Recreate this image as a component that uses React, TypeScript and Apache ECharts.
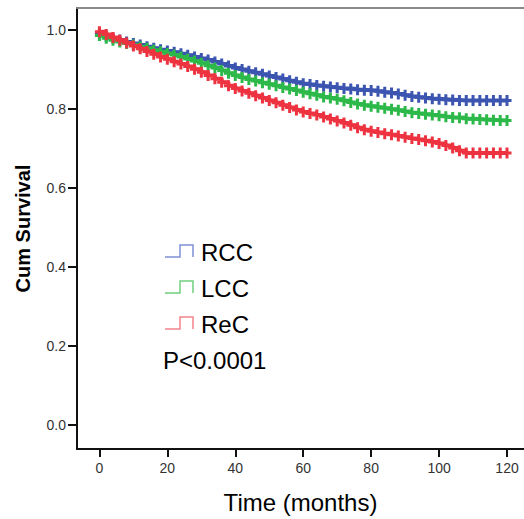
import React, { useEffect, useRef } from "react";
import * as echarts from "echarts";

const months = [0,2,4,6,8,10,12,14,16,18,20,22,24,26,28,30,32,34,36,38,40,42,44,46,48,50,52,54,56,58,60,62,64,66,68,70,72,74,76,78,80,82,84,86,88,90,92,94,96,98,100,102,104,106,108,110,112,114,116,118,120];

const rccSurvival = [0.990,0.984,0.979,0.974,0.969,0.965,0.961,0.957,0.953,0.949,0.946,0.943,0.939,0.935,0.931,0.927,0.923,0.918,0.913,0.908,0.903,0.899,0.895,0.891,0.887,0.883,0.879,0.875,0.871,0.867,0.863,0.861,0.859,0.857,0.855,0.853,0.851,0.850,0.848,0.847,0.846,0.844,0.842,0.840,0.837,0.834,0.831,0.829,0.827,0.825,0.824,0.823,0.822,0.821,0.821,0.821,0.821,0.821,0.821,0.821,0.821];

const lccSurvival = [0.985,0.978,0.973,0.969,0.965,0.961,0.957,0.953,0.948,0.944,0.940,0.936,0.931,0.926,0.921,0.915,0.909,0.903,0.897,0.890,0.884,0.879,0.874,0.870,0.866,0.862,0.858,0.854,0.850,0.846,0.842,0.838,0.834,0.830,0.827,0.824,0.820,0.816,0.812,0.809,0.806,0.804,0.801,0.799,0.796,0.793,0.790,0.788,0.786,0.784,0.782,0.780,0.778,0.777,0.775,0.774,0.773,0.772,0.771,0.770,0.770];

const recSurvival = [0.995,0.988,0.980,0.973,0.966,0.959,0.952,0.945,0.938,0.931,0.925,0.919,0.913,0.907,0.900,0.892,0.884,0.876,0.867,0.858,0.851,0.845,0.839,0.833,0.827,0.821,0.815,0.809,0.803,0.797,0.792,0.788,0.784,0.779,0.774,0.769,0.764,0.758,0.752,0.747,0.743,0.740,0.737,0.734,0.731,0.728,0.725,0.722,0.719,0.716,0.712,0.707,0.701,0.694,0.688,0.688,0.688,0.688,0.688,0.688,0.688];

const xTicks = [0, 20, 40, 60, 80, 100, 120];
const yTicks = [0, 0.2, 0.4, 0.6, 0.8, 1.0];
const groupNames = ["RCC", "LCC", "ReC"];
const pValueText = "P<0.0001";

const COLORS = ["#3b55b0", "#2db84a", "#ee3340"];
const ICON_COLORS = ["#7f90d6", "#6fd07e", "#f4858b"];
const FONT = "Liberation Sans, Arial, sans-serif";
const PLUS = "path://M3,0H6V4H9V7H6V11H3V7H0V4H3Z";

export default function App() {
  const ref = useRef<HTMLDivElement>(null);
  useEffect(() => {
    if (!ref.current) return;
    const chart = echarts.init(ref.current, undefined, { renderer: "svg" });
    const seriesData = [rccSurvival, lccSurvival, recSurvival];
    const legendY = [252, 288, 324];
    const graphics: any[] = [];
    groupNames.forEach((name, i) => {
      const y = legendY[i];
      graphics.push({
        type: "polyline",
        shape: { points: [[165, y + 5], [180, y + 5], [180, y - 7], [193, y - 7], [193, y + 5]] },
        style: { stroke: ICON_COLORS[i], lineWidth: 1.5, fill: "none" },
        silent: true,
      });
      graphics.push({
        type: "text",
        x: 201,
        y: y,
        style: { text: name, font: `24px ${FONT}`, fill: "#000", textVerticalAlign: "middle" },
      });
    });
    graphics.push({
      type: "text",
      x: 163,
      y: 360,
      style: { text: pValueText, font: `24px ${FONT}`, fill: "#000", textVerticalAlign: "middle" },
    });

    chart.setOption({
      animation: false,
      backgroundColor: "#fff",
      grid: { left: 77, top: 8, right: 0, bottom: 63, containLabel: false },
      xAxis: [
        {
          type: "value",
          min: -6.6,
          max: 125,
          position: "bottom",
          name: "Time (months)",
          nameLocation: "middle",
          nameGap: 41,
          nameMoveOverlap: false,
          nameTextStyle: { fontFamily: FONT, fontSize: 24, color: "#000" },
          axisLine: { show: true, onZero: false, lineStyle: { color: "#111", width: 2 } },
          axisTick: { show: true, length: 8, customValues: xTicks, lineStyle: { color: "#111", width: 2 } },
          axisLabel: { customValues: xTicks, fontFamily: FONT, fontSize: 14, color: "#333", margin: 12 },
          splitLine: { show: false },
        },
        {
          type: "value",
          min: -6.6,
          max: 125,
          position: "top",
          axisLine: { show: true, onZero: false, lineStyle: { color: "#8a8a8a", width: 2 } },
          axisTick: { show: false },
          axisLabel: { show: false },
          splitLine: { show: false },
        },
      ],
      yAxis: {
        type: "value",
        min: -0.0606,
        max: 1.0548,
        name: "Cum Survival",
        nameLocation: "middle",
        nameGap: 44,
        nameMoveOverlap: false,
        nameRotate: 90,
        nameTextStyle: { fontFamily: FONT, fontSize: 20, fontWeight: "bold", color: "#000" },
        axisLine: { show: true, onZero: false, lineStyle: { color: "#111", width: 2 } },
        axisTick: { show: true, length: 9, customValues: yTicks, lineStyle: { color: "#111", width: 2 } },
        axisLabel: {
          customValues: yTicks,
          fontFamily: FONT,
          fontSize: 14,
          color: "#333",
          margin: 11,
          formatter: (v: number) => v.toFixed(1),
        },
        splitLine: { show: false },
      },
      series: groupNames.map((name, i) => ({
        name,
        type: "line",
        step: "end",
        data: months.map((m, j) => [m, seriesData[i][j]]),
        symbol: PLUS,
        symbolSize: [9, 11],
        showSymbol: true,
        showAllSymbol: true,
        lineStyle: { color: COLORS[i], width: 4 },
        itemStyle: { color: COLORS[i] },
        z: 3 + i,
      })),
      graphic: graphics,
    });
    return () => chart.dispose();
  }, []);
  return (
    <div
      ref={ref}
      style={{ position: "fixed", left: 0, top: 0, width: 524, height: 519, background: "#fff" }}
    />
  );
}
